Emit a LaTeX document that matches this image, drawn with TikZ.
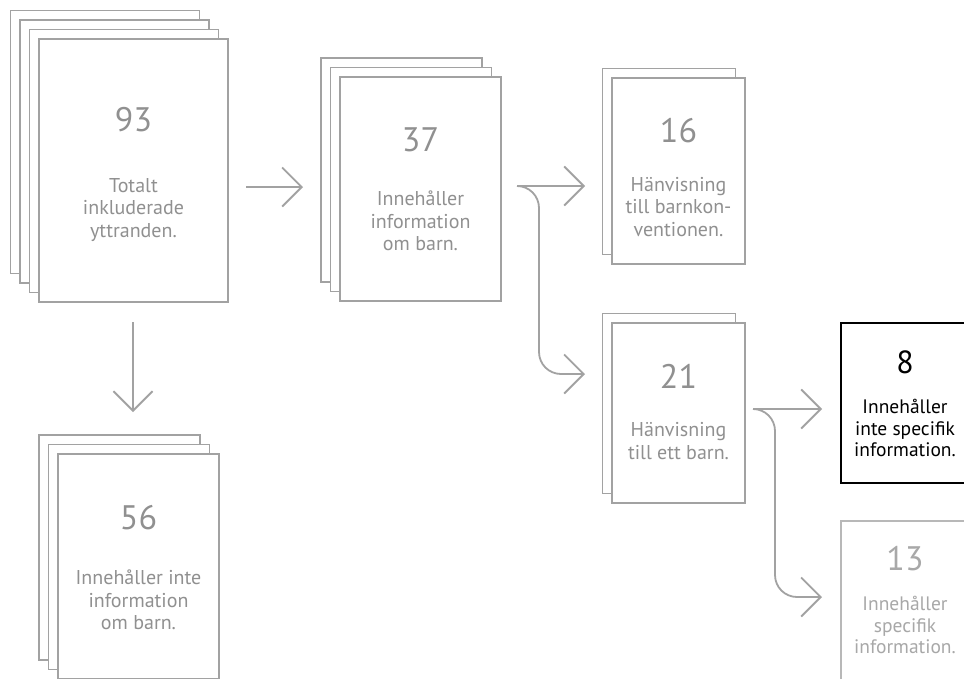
\documentclass[tikz,border=0pt]{standalone}
\usepackage{fontspec}
\setmainfont{PT Sans}
\usetikzlibrary{arrows.meta}
\definecolor{ln}{HTML}{A2A2A2}
\definecolor{tx}{HTML}{909090}
\definecolor{lt}{HTML}{B8B8B8}
\definecolor{ltx}{HTML}{A8A8A8}
\begin{document}
\begin{tikzpicture}[x=1pt,y=-1pt,
  sheet/.style={draw=ln,line width=1.8pt,fill=white,inner sep=0pt,outer sep=0pt},
  num/.style={text=tx,font=\fontsize{34}{38}\selectfont,inner sep=0pt},
  lbl/.style={text=tx,font=\fontsize{20}{22.5}\selectfont,align=center,inner sep=0pt},
  conn/.style={draw=ln,line width=1.8pt,rounded corners=22pt,
    -{Straight Barb[length=19.5pt,width=39pt]}}]
\useasboundingbox (0,0) rectangle (964,678);
\clip (0,0) rectangle (964,678);
\fill[white] (0,0) rectangle (964,678);

% stack 93
\foreach \i in {3,2,1}
  \node[sheet,minimum width=189pt,minimum height=263pt] (s93b\i) at (133.5-9.5*\i,170.5-9.5*\i) {};
\node[sheet,minimum width=189pt,minimum height=263pt] (s93) at (133.5,170.5) {};
\node[num] (n93) at (133.5,120) {93};
\node[lbl] (l93) at (133.5,210) {Totalt\\inkluderade\\yttranden.};

% stack 37
\foreach \i in {2,1}
  \node[sheet,minimum width=161pt,minimum height=224pt] (s37b\i) at (420.5-9.5*\i,189-9.5*\i) {};
\node[sheet,minimum width=161pt,minimum height=224pt] (s37) at (420.5,189) {};
\node[num] (n37) at (420.5,140) {37};
\node[lbl] (l37) at (420.5,221) {Innehåller\\information\\om barn.};

% stack 16
\node[sheet,minimum width=133pt,minimum height=186pt] (s16b) at (669,161.5) {};
\node[sheet,minimum width=133pt,minimum height=186pt] (s16) at (678.5,171) {};
\node[num] (n16) at (678.5,131) {16};
\node[lbl] (l16) at (678.5,207) {Hänvisning\\till barnkon-\\ventionen.};

% stack 21
\node[sheet,minimum width=133pt,minimum height=180pt] (s21b) at (669,403.5) {};
\node[sheet,minimum width=133pt,minimum height=180pt] (s21) at (678.5,413) {};
\node[num] (n21) at (678.5,376) {21};
\node[lbl] (l21) at (678.5,441) {Hänvisning\\till ett barn.};

% stack 56
\foreach \i in {2,1}
  \node[sheet,minimum width=161pt,minimum height=225pt] (s56b\i) at (138.5-9.5*\i,566.5-9.5*\i) {};
\node[sheet,minimum width=161pt,minimum height=225pt] (s56) at (138.5,566.5) {};
\node[num] (n56) at (138.5,518) {56};
\node[lbl] (l56) at (138.5,600) {Innehåller inte\\information\\om barn.};

% box 8
\node[sheet,draw=black,minimum width=128pt,minimum height=160pt] (s8) at (905,403) {};
\node[num,text=black,font=\fontsize{32}{36}\selectfont] (n8) at (905,362) {8};
\node[lbl,text=black,font=\fontsize{19.5}{21.5}\selectfont] (l8) at (905,428) {Innehåller\\inte specifik\\information.};

% box 13
\node[sheet,draw=lt,minimum width=128pt,minimum height=200pt] (s13) at (905,621) {};
\node[num,text=ltx] (n13) at (905,559) {13};
\node[lbl,text=ltx,font=\fontsize{19.5}{21.5}\selectfont] (l13) at (905,625) {Innehåller\\specifik\\information.};

% connectors
\coordinate (a1s) at (246,187);
\coordinate (a1e) at (303,187);
\draw[conn] (a1s) -- (a1e);

\coordinate (a2s) at (133,322);
\coordinate (a2e) at (133,412);
\draw[conn] (a2s) -- (a2e);

\coordinate (b1s) at (517,186);
\coordinate (b1e) at (585,186);
\coordinate (b1f) at (585,374);
\draw[conn] (b1s) -- (b1e);
\draw[conn] (b1s) -| (539,374) -- (b1f);

\coordinate (b2s) at (753,409);
\coordinate (b2e) at (822,409);
\coordinate (b2f) at (822,597);
\draw[conn] (b2s) -- (b2e);
\draw[conn] (b2s) -| (775,597) -- (b2f);
\end{tikzpicture}
\end{document}
